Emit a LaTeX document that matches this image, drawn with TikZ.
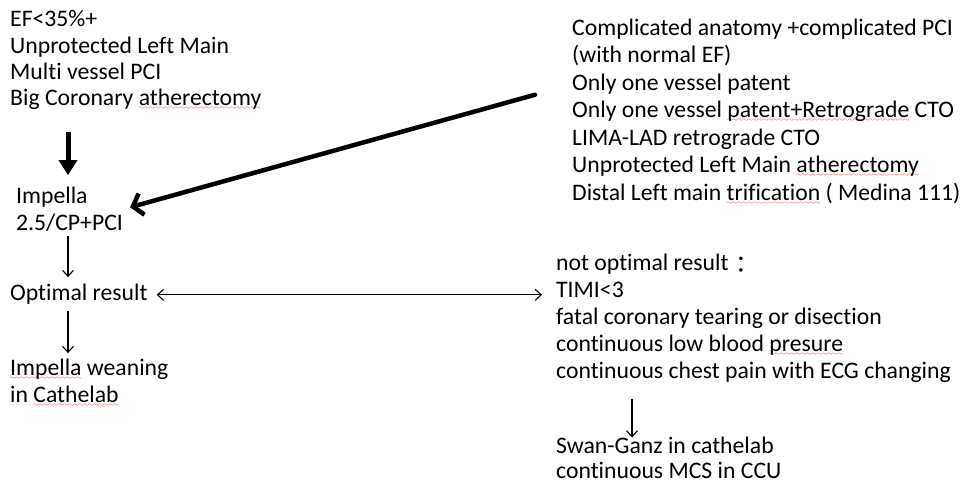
\documentclass[tikz,border=0pt]{standalone}
\usepackage{fontspec}
\usepackage{tikz}
\usetikzlibrary{calc,arrows.meta}
\setmainfont{Carlito}[Ligatures={NoCommon}]
\newfontfamily\cjk{Noto Sans CJK TC}
\font\spellwave=lasy6
\newcommand\spell[1]{\setbox0\hbox{#1}\rlap{\lower4pt\hbox to \wd0{\color{red!85!black}\xleaders\hbox{\spellwave\char58}\hfil}}\box0\relax}

\begin{document}
\begin{tikzpicture}[x=1pt, y=1pt,
    txt/.style={inner sep=0, anchor=north west, align=left},
    bigarrow/.style={line width=5pt, -{Triangle[length=15pt,width=18pt]}},
    diagarrow/.style={line width=4.5pt, line cap=round, -{Straight Barb[length=9pt,width=22pt,line width=4.5pt]}},
    thinarrow/.style={line width=1.1pt, -{Straight Barb[length=6pt,width=11pt]}},
    botharrow/.style={line width=1.1pt, {Straight Barb[length=6pt,width=11pt]}-{Straight Barb[length=6pt,width=11pt]}}]
    \useasboundingbox (0,0) rectangle (967,-493);% keep the page size

    % left column
    \node[txt, font=\fontsize{23.7}{26.3}\selectfont] (crit) at (10,-8.3)
      {\strut EF<35\%+\\Unprotected Left Main\\Multi vessel PCI\\Big Coronary \spell{atherectomy}\strut};
    \node[txt, font=\fontsize{23.7}{27}\selectfont] (impella) at (16,-184.1)
      {\strut Impella\\2.5/CP+PCI\strut};
    \node[txt, font=\fontsize{23.7}{27}\selectfont] (optimal) at (10,-281.1)
      {\strut Optimal result};
    \node[txt, font=\fontsize{23.7}{27}\selectfont] (wean) at (10,-356.1)
      {\strut \spell{Impella} weaning\\in \spell{Cathelab}\strut};

    % right column
    \node[txt, font=\fontsize{23.7}{27.5}\selectfont] (complex) at (572,-15.75)
      {\strut Complicated anatomy +complicated PCI\\(with normal EF)\\Only one vessel patent\\%
       Only one vessel \spell{patent+Retrograde} CTO\\LIMA-LAD retrograde CTO\\%
       Unprotected Left Main \spell{atherectomy}\\Distal Left main \spell{trification} ( Medina 111)\strut};
    \node[txt, font=\fontsize{23.7}{27}\selectfont] (notopt) at (556,-251.1)
      {\strut not optimal result\hspace{1pt}\raisebox{-3.5pt}{\cjk ：}\\TIMI<3\\fatal coronary tearing or disection\\%
       continuous low blood \spell{presure}\\continuous chest pain with ECG changing\strut};
    \node[txt, font=\fontsize{23.7}{25}\selectfont] (swan) at (556,-435.5)
      {\strut Swan-Ganz in cathelab\\continuous MCS in CCU\strut};

    % connectors
    \draw[bigarrow] ([xshift=58pt,yshift=-18pt]crit.south west) -- ([xshift=52pt,yshift=9pt]impella.north west);
    \draw[diagarrow] ([xshift=-37pt,yshift=-79pt]complex.north west) -- ([shift={(7pt,4pt)}]impella.east);
    \draw[thinarrow] ([xshift=52pt,yshift=3pt]impella.south west) -- ([xshift=58pt,yshift=4pt]optimal.north west);
    \draw[botharrow] ([xshift=9pt]optimal.east) -- ($(notopt.west |- optimal.east)+(-14pt,0)$);
    \draw[thinarrow] ([xshift=58pt,yshift=-2pt]optimal.south west) -- ([xshift=58pt,yshift=3pt]wean.north west);
    \draw[thinarrow] ([xshift=76pt,yshift=-12pt]notopt.south west) -- ([xshift=76pt,yshift=-2pt]swan.north west);
\end{tikzpicture}
\end{document}
